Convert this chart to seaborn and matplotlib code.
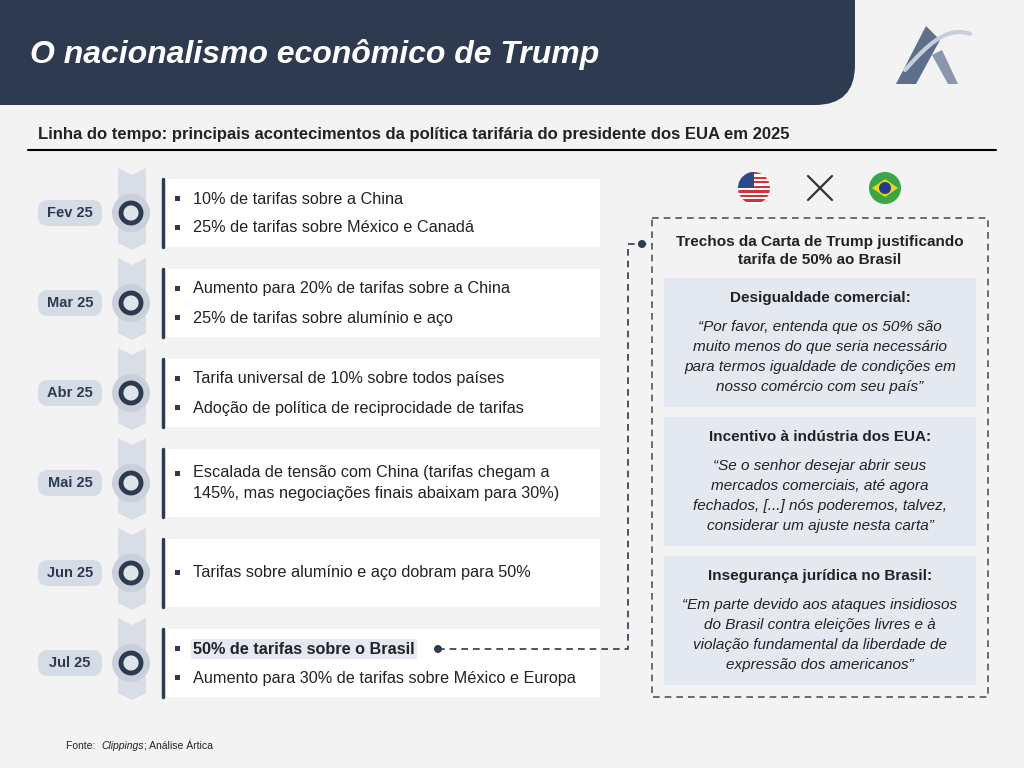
import matplotlib
matplotlib.use("Agg")
import matplotlib.pyplot as plt
import matplotlib.patches as mpatches
import seaborn as sns
import numpy as np

sns.set_style("white")
plt.rcParams["font.family"] = "Liberation Sans"

# ---------------- dados ----------------
datas = ["Fev 25", "Mar 25", "Abr 25", "Mai 25", "Jun 25", "Jul 25"]
eventos = [
    ["10% de tarifas sobre a China", "25% de tarifas sobre México e Canadá"],
    ["Aumento para 20% de tarifas sobre a China", "25% de tarifas sobre alumínio e aço"],
    ["Tarifa universal de 10% sobre todos países", "Adoção de política de reciprocidade de tarifas"],
    ["Escalada de tensão com China (tarifas chegam a\n145%, mas negociações finais abaixam para 30%)"],
    ["Tarifas sobre alumínio e aço dobram para 50%"],
    ["50% de tarifas sobre o Brasil", "Aumento para 30% de tarifas sobre México e Europa"],
]
topicos = ["Desigualdade comercial:", "Incentivo à indústria dos EUA:", "Insegurança jurídica no Brasil:"]
citacoes = [
    "“Por favor, entenda que os 50% são\nmuito menos do que seria necessário\npara termos igualdade de condições em\nnosso comércio com seu país”",
    "“Se o senhor desejar abrir seus\nmercados comerciais, até agora\nfechados, [...] nós poderemos, talvez,\nconsiderar um ajuste nesta carta”",
    "“Em parte devido aos ataques insidiosos\ndo Brasil contra eleições livres e à\nviolação fundamental da liberdade de\nexpressão dos americanos”",
]

NAVY = "#2d3a50"
PILL = "#d6dce6"
BOX = "#e4e8f0"
TXT = "#222222"

fig = plt.figure(figsize=(10.24, 7.68), dpi=100)
fig.patch.set_facecolor("#f3f3f3")
ax = fig.add_axes([0, 0, 1, 1])
ax.set_xlim(0, 1024)
ax.set_ylim(768, 0)
ax.axis("off")

# cabeçalho
ax.add_patch(mpatches.FancyBboxPatch((-40, -40), 895, 145, boxstyle="round,pad=0,rounding_size=40",
                                     fc=NAVY, ec="none"))
ax.text(30, 55, "O nacionalismo econômico de Trump", color="white", fontsize=23,
        fontweight="bold", fontstyle="italic", va="center")
# logo
ax.add_patch(mpatches.Polygon([[896, 84], [926, 26], [940, 40], [916, 84]], fc="#5d6f8a", ec="none"))
ax.add_patch(mpatches.Polygon([[932, 55], [948, 84], [958, 84], [942, 50]], fc="#8a97ad", ec="none"))
t = np.linspace(0, 1, 30)
ax.plot(905 + 65 * t, 70 - 38 * np.sin(t * np.pi * 0.6), color="#c8cfdb", lw=3)

ax.text(38, 135, "Linha do tempo: principais acontecimentos da política tarifária do presidente dos EUA em 2025",
        fontsize=12, fontweight="bold", color=TXT, va="center")
ax.plot([28, 996], [150, 150], color="black", lw=1.5)

# linha do tempo
ys = 213 + 90 * np.arange(len(datas))
for y in ys:
    ax.add_patch(mpatches.Polygon([[118, y - 45], [132, y - 38], [146, y - 45], [146, y + 30],
                                   [132, y + 37], [118, y + 30]], fc="#d9dee6", ec="none"))
for i, (d, ev) in enumerate(zip(datas, eventos)):
    y = ys[i]
    ax.add_patch(mpatches.FancyBboxPatch((38, y - 13), 64, 26, boxstyle="round,pad=0,rounding_size=10",
                                         fc=PILL, ec="none"))
    ax.text(70, y, d, ha="center", va="center", fontsize=10.5, fontweight="bold", color=NAVY)
    ax.add_patch(mpatches.Circle((131, y), 19, fc="#c9d0dc", ec="none"))
    ax.add_patch(mpatches.Circle((131, y), 10, fc="#dfe3ea", ec=NAVY, lw=3.5))
    ax.add_patch(mpatches.Rectangle((162, y - 34), 438, 68, fc="white", ec="none"))
    ax.plot([163, 163], [y - 34, y + 34], color=NAVY, lw=2.5)
    lys = [y - 14, y + 15] if len(ev) == 2 else [y]
    for j, (ly, e) in enumerate(zip(lys, ev)):
        by = ly - 9 if "\n" in e else ly
        ax.add_patch(mpatches.Rectangle((175, by - 3), 5, 5, fc=NAVY, ec="none"))
        hl = (i == len(datas) - 1 and j == 0)
        ax.text(193, ly, e, va="center", fontsize=11.7, color=TXT, linespacing=1.5,
                fontweight="bold" if hl else "normal",
                bbox=dict(fc=BOX, ec="none", pad=1.5) if hl else None)

# conector
yb = ys[-1] - 14
ax.add_patch(mpatches.Circle((438, yb), 4, fc=NAVY, ec="none"))
ax.plot([438, 628, 628, 652], [yb, yb, 244, 244], color=NAVY, lw=1.2, ls=(0, (4, 3)))
ax.add_patch(mpatches.Circle((642, 244), 4, fc=NAVY, ec="none"))

# painel da carta
ax.add_patch(mpatches.Rectangle((652, 218), 336, 479, fc="none", ec="#555555", lw=1.2, ls=(0, (4, 3))))
ax.text(820, 251, "Trechos da Carta de Trump justificando\ntarifa de 50% ao Brasil", ha="center",
        va="center", fontsize=11, fontweight="bold", color=TXT, linespacing=1.45)
for k, (tp, ct) in enumerate(zip(topicos, citacoes)):
    y0 = 278 + 139 * k
    ax.add_patch(mpatches.Rectangle((664, y0), 312, 129, fc=BOX, ec="none"))
    ax.text(820, y0 + 20, tp, ha="center", va="center", fontsize=11, fontweight="bold", color=TXT)
    ax.text(820, y0 + 79, ct, ha="center", va="center", fontsize=11, fontstyle="italic",
            color=TXT, linespacing=1.55)

# ícones
cx, cy, r = 754, 188, 16
circ = mpatches.Circle((cx, cy), r, fc="white", ec="none")
ax.add_patch(circ)
for s in range(7):
    st = mpatches.Rectangle((cx - r, cy - r + s * 2 * r / 7), 2 * r, 2 * r / 14, fc="#d8303a", ec="none")
    ax.add_patch(st)
    st.set_clip_path(circ)
cant = mpatches.Rectangle((cx - r, cy - r), r, r, fc="#2b4a8c", ec="none")
ax.add_patch(cant)
cant.set_clip_path(circ)
ax.add_patch(mpatches.Circle((885, 188), 16, fc="#3aa646", ec="none"))
ax.add_patch(mpatches.Polygon([[872, 188], [885, 179], [898, 188], [885, 197]], fc="#f4d018", ec="none"))
ax.add_patch(mpatches.Circle((885, 188), 6, fc="#1f3f8c", ec="none"))
ax.plot([808, 832], [176, 200], color="#333333", lw=1.6)
ax.plot([832, 808], [176, 200], color="#333333", lw=1.6)

# fonte
fig.canvas.draw()
rend = fig.canvas.get_renderer()
x = 66
for part, sty in [("Fonte: ", "normal"), ("Clippings", "italic"), ("; Análise Ártica", "normal")]:
    tx = ax.text(x, 746, part, fontsize=7.5, fontstyle=sty, va="center", color=TXT)
    x += tx.get_window_extent(rend).width + (3 if part.endswith(" ") else 0.5)

fig.savefig("out.png", dpi=100, facecolor=fig.get_facecolor())
